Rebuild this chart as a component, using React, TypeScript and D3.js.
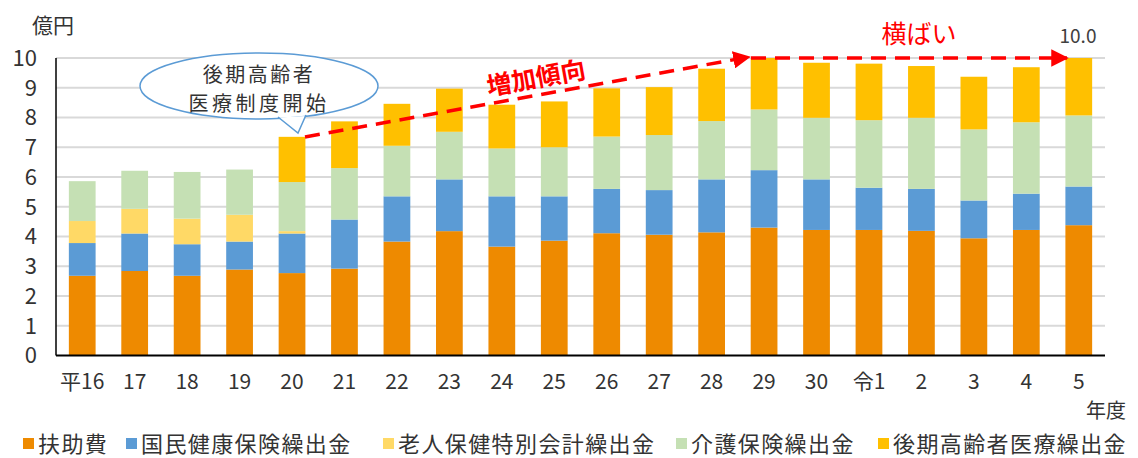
import React from "react";
import * as d3 from "d3";

const categories = ["平16","17","18","19","20","21","22","23","24","25","26","27","28","29","30","令1","2","3","4","5"];
const fujo = [2.68,2.84,2.68,2.89,2.77,2.92,3.83,4.18,3.66,3.86,4.11,4.06,4.14,4.30,4.22,4.22,4.19,3.94,4.22,4.38];
const kokuho = [1.10,1.26,1.06,0.94,1.33,1.65,1.52,1.74,1.69,1.49,1.49,1.50,1.78,1.93,1.70,1.42,1.41,1.27,1.22,1.30];
const roujin = [0.74,0.83,0.86,0.90,0.08,0,0,0,0,0,0,0,0,0,0,0,0,0,0,0];
const kaigo = [1.34,1.28,1.57,1.52,1.65,1.73,1.70,1.60,1.61,1.65,1.76,1.85,1.96,2.04,2.07,2.27,2.39,2.39,2.40,2.39];
const kouki = [0,0,0,0,1.52,1.57,1.41,1.45,1.47,1.54,1.62,1.61,1.76,1.73,1.85,1.90,1.74,1.77,1.85,1.93];
const seriesNames = ["扶助費","国民健康保険繰出金","老人保健特別会計繰出金","介護保険繰出金","後期高齢者医療繰出金"];
const seriesColors = ["#EE8A00","#5B9BD5","#FFD966","#C5E0B4","#FFC000"];
const yTicks = [0,1,2,3,4,5,6,7,8,9,10];

const FONT = "'Noto Sans CJK JP', 'Noto Sans', sans-serif";

export default function App() {
  const W = 1138, H = 458;
  const x0 = 56, x1 = 1105, yTop = 58, yBot = 355.5;
  const x = d3.scaleBand<string>().domain(categories).range([x0, x1]).paddingInner(0.49).paddingOuter(0.245);
  const y = d3.scaleLinear().domain([0, 10]).range([yBot, yTop]);
  const rows = categories.map((c, i) => ({ cat: c, s0: fujo[i], s1: kokuho[i], s2: roujin[i], s3: kaigo[i], s4: kouki[i] }));
  const stack = d3.stack<any>().keys(["s0","s1","s2","s3","s4"])(rows);

  const arrowStart: [number, number] = [305, 137];
  const arrowEnd: [number, number] = [749, 57];
  const ang = Math.atan2(arrowEnd[1]-arrowStart[1], arrowEnd[0]-arrowStart[0]) * 180 / Math.PI;

  const legendX = [23, 126, 383, 676, 878];

  return (
    <svg width={W} height={H} style={{ position: "absolute", left: 0, top: 0, background: "#fff" }} fontFamily={FONT}>
      <defs>
        <marker id="ah" viewBox="0 0 10 10" refX="9" refY="5" markerWidth="5" markerHeight="5" orient="auto" markerUnits="strokeWidth">
          <path d="M0,0 L10,5 L0,10 z" fill="#FF0000" />
        </marker>
      </defs>
      {yTicks.map(t => (
        <g key={t}>
          {t > 0 && <line x1={x0} x2={x1} y1={y(t)} y2={y(t)} stroke="#D9D9D9" strokeWidth={2} />}
          <text x={37} y={y(t)} dy="0.36em" textAnchor="end" fontSize={22} fill="#333">{t}</text>
        </g>
      ))}
      <text x={32} y={25} dy="0.36em" fontSize={21} fill="#333">億円</text>
      {stack.map((layer, si) => (
        <g key={si} fill={seriesColors[si]}>
          {layer.map((d, i) => d[1] - d[0] > 0 ? (
            <rect key={i} x={x(categories[i])} width={x.bandwidth()} y={y(d[1])} height={y(d[0]) - y(d[1])} />
          ) : null)}
        </g>
      ))}
      <line x1={x0} x2={x0} y1={yTop} y2={yBot} stroke="#000" strokeWidth={1.5} />
      <line x1={x0} x2={x1} y1={yBot} y2={yBot} stroke="#000" strokeWidth={2} />
      {categories.map(c => (
        <text key={c} x={(x(c) as number) + x.bandwidth() / 2} y={381} dy="0.36em" textAnchor="middle" fontSize={21} fill="#333">{c}</text>
      ))}
      <text x={1126} y={411} dy="0.36em" textAnchor="end" fontSize={20} fill="#333">年度</text>
      {seriesNames.map((n, i) => (
        <g key={n}>
          <rect x={legendX[i]} y={438} width={11} height={11} fill={seriesColors[i]} />
          <text x={legendX[i] + 15} y={444} dy="0.36em" fontSize={22} letterSpacing={1.4} fill="#333">{n}</text>
        </g>
      ))}
      {/* callout */}
      <ellipse cx={259} cy={86} rx={119} ry={33} fill="#fff" stroke="#5B9BD5" strokeWidth={1.5} />
      <path d="M 279 117.5 L 298 133 L 305 116" fill="#fff" stroke="none" />
      <path d="M 278 117 L 298 133 L 306 115" fill="none" stroke="#5B9BD5" strokeWidth={1.5} />
      <text x={259} y={74.5} dy="0.36em" textAnchor="middle" fontSize={20} letterSpacing={2.5} fill="#333">後期高齢者</text>
      <text x={259} y={103.5} dy="0.36em" textAnchor="middle" fontSize={20} letterSpacing={3.5} fill="#333">医療制度開始</text>
      {/* arrows */}
      <line x1={arrowStart[0]} y1={arrowStart[1]} x2={arrowEnd[0]} y2={arrowEnd[1]} stroke="#FF0000" strokeWidth={3.5} strokeDasharray="15 9" markerEnd="url(#ah)" />
      <text transform={`translate(536,78) rotate(${ang})`} textAnchor="middle" dy="0.36em" fontSize={25} fontWeight="bold" fill="#FF0000">増加傾向</text>
      <line x1={751} y1={58} x2={1067} y2={58} stroke="#FF0000" strokeWidth={3.5} strokeDasharray="15 9" markerEnd="url(#ah)" />
      <text x={919} y={34} dy="0.36em" textAnchor="middle" fontSize={25} fill="#FF0000">横ばい</text>
      <text x={1078} y={36} dy="0.36em" textAnchor="middle" fontSize={19} fill="#404040">10.0</text>
    </svg>
  );
}
